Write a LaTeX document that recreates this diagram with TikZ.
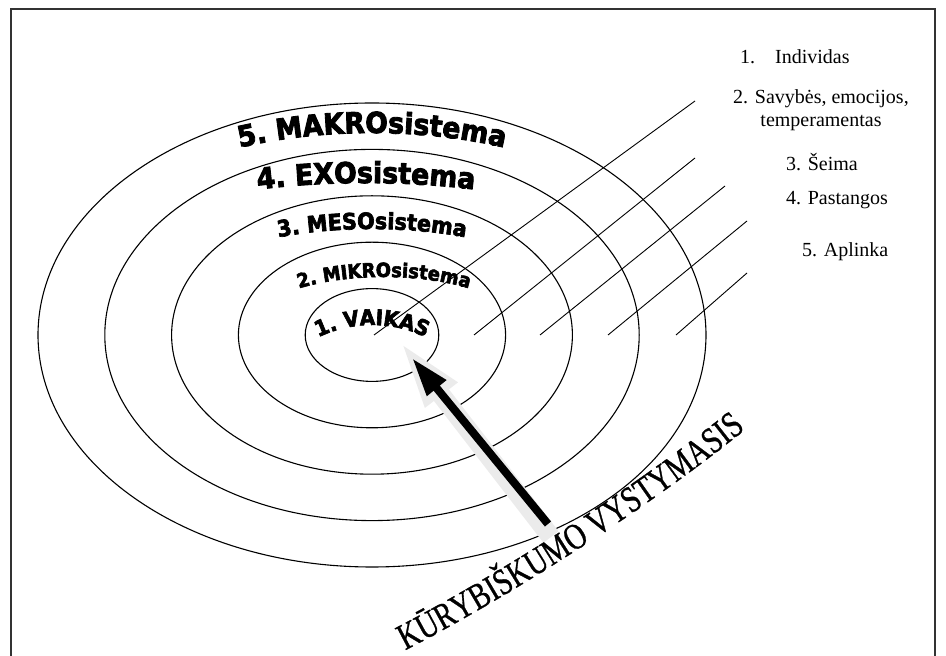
\documentclass[tikz,border=0pt]{standalone}
\usepackage{fontspec}
\newfontfamily\legendfont{Liberation Serif}
\newfontfamily\arcfont{Liberation Serif}[FakeStretch=0.78, FakeBold=0.8]
\newfontfamily\ringfont{DejaVu Sans}[UprightFont={* Bold}, FakeStretch=0.92, FakeBold=3]
\usetikzlibrary{arrows.meta, calc, decorations.text}

\begin{document}
\begin{tikzpicture}[x=1pt, y=1pt,
  ring/.style = {line width=1.1pt},
  pointer/.style = {line width=0.9pt},
  legend/.style = {font=\legendfont\fontsize{20}{23}\selectfont, inner sep=0pt, align=center},
  ringtext/.style 2 args = {decorate, decoration={text along path, text align=center,
      text={|\ringfont\fontsize{#1}{#1}\selectfont|#2}}}]
  \useasboundingbox (0,0) rectangle (946,656);
  \draw[line width=2pt, black!80] (11,-10) rectangle (935,647);

  % rings
  \coordinate (centre) at (372,321);
  \foreach \r in {1,...,5}
    \draw[ring] (centre) ellipse [x radius=66.8*\r, y radius=46.4*\r];

  % pointers to the legend
  \foreach \sx/\ex/\ey [count=\i] in {374/695/555, 474/695/498, 540/725/470, 608/747/435, 676/747/383} {
    \coordinate (from\i) at (\sx,321);
    \coordinate (to\i) at (\ex,\ey);
    \draw[pointer] (from\i) -- (to\i);
  }

  % legend
  \node[legend, anchor=west] (individas) at (740,599) {1.\hspace{20pt}Individas};
  \node[legend] (savybes) at (821,546) {2. Savybės, emocijos,\\temperamentas};
  \node[legend, anchor=west] (seima) at (786,494) {3. Šeima};
  \node[legend, anchor=west] (pastangos) at (786,456) {4. Pastangos};
  \node[legend, anchor=west] (aplinka) at (802,404) {5. Aplinka};

  % ring labels
  \path[ringtext={29}{5. MAKROsistema}] ($(centre)+(135:354 and 202)$)
    arc[start angle=135, end angle=45, x radius=354, y radius=202];
  \path[ringtext={29}{4. EXOsistema}] ($(centre)+(-6,0)+(130:374 and 152)$)
    arc[start angle=130, end angle=50, x radius=374, y radius=152];
  \path[ringtext={22.5}{3. MESOsistema}] ($(centre)+(135:241 and 106)$)
    arc[start angle=135, end angle=45, x radius=241, y radius=106];
  \path[ringtext={19.5}{2. MIKROsistema}] ($(centre)+(12,0)+(150:143 and 58)$)
    arc[start angle=150, end angle=30, x radius=143, y radius=58];
  \path[ringtext={21.5}{1. VAIKAS}] ($(372,208)+(130:123)$)
    arc[start angle=130, end angle=50, radius=123];

  % arrow
  \coordinate (glowtail) at (551,119);
  \coordinate (glowtip) at (395,321);
  \coordinate (arrowtail) at (548,132);
  \coordinate (arrowtip) at (412,298);
  \draw[line width=19pt, draw=black!8, -{Triangle[length=76pt, width=34pt]}] (glowtail) -- (glowtip);
  \draw[line width=8pt, -{Triangle[length=39pt, width=23pt]}] (arrowtail) -- (arrowtip);

  \path[decorate, decoration={text along path, text align=center,
      text={|\arcfont\fontsize{37}{37}\selectfont|KŪRYBIŠKUMO VYSTYMASIS}}]
    (398,2) .. controls (508,58) and (652,150) .. (752,232);
\end{tikzpicture}
\end{document}
